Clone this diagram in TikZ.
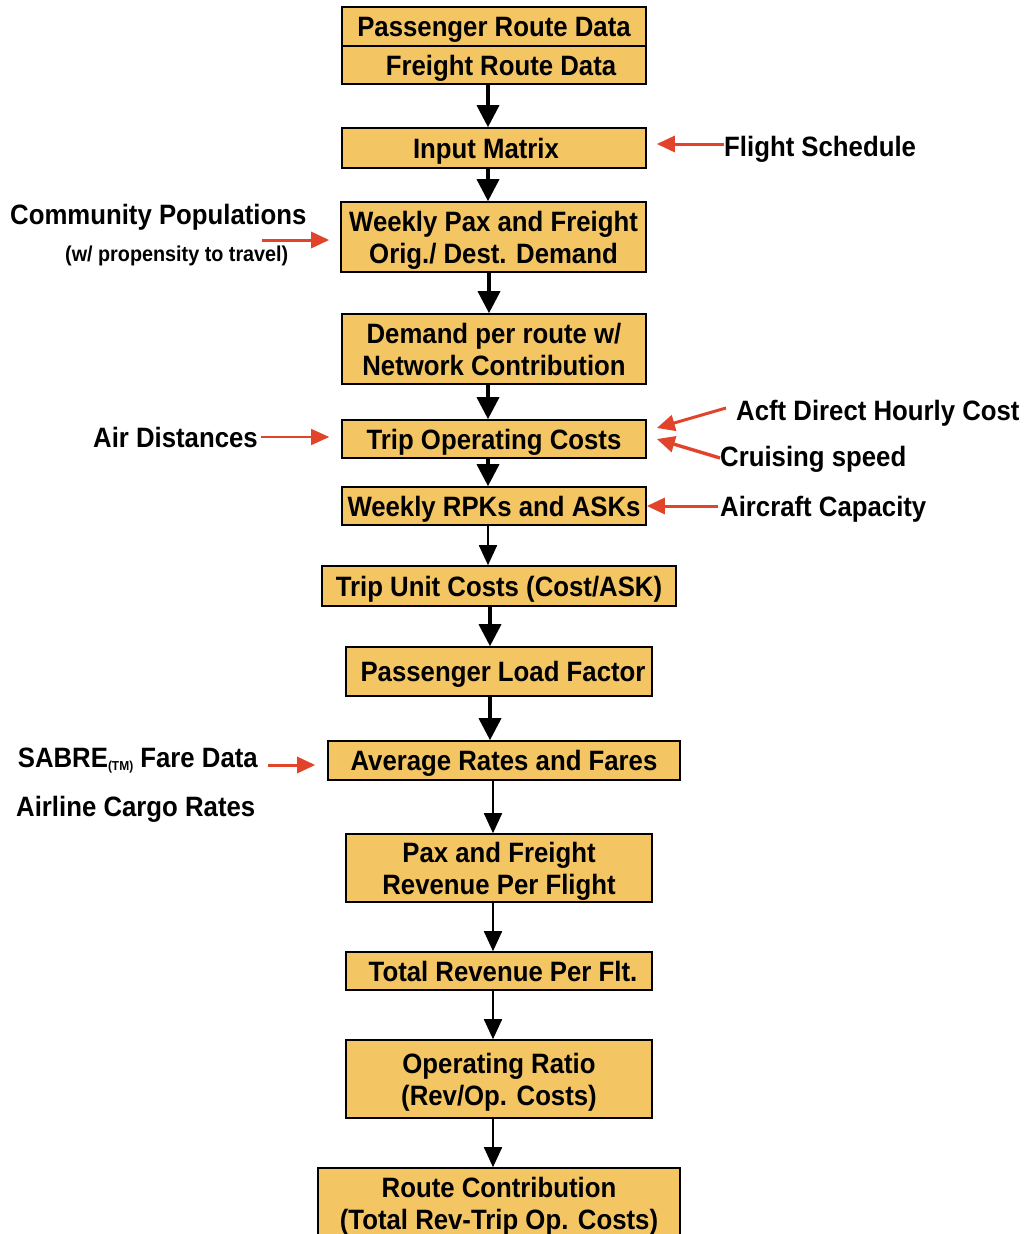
\documentclass[tikz,border=0pt]{standalone}
\usepackage{fontspec}
\setmainfont{Liberation Sans}[FakeStretch=0.92]
\usetikzlibrary{arrows.meta}
\definecolor{boxfill}{RGB}{244,197,99}
\definecolor{feedred}{RGB}{226,67,43}

\begin{document}
\begin{tikzpicture}[x=1pt,y=-1pt,
  stage/.style={draw, line width=1.6pt, fill=boxfill, inner sep=0pt, align=center, text depth=-3pt,
    font=\fontsize{28}{32}\selectfont\bfseries},
  src/.style={inner sep=0pt, text depth=-1pt, font=\fontsize{28}{32}\selectfont\bfseries},
  flow/.style={line width=3.6pt, -{Triangle[length=22pt,width=22pt]}},
  thinflow/.style={line width=1.8pt, -{Triangle[length=20pt,width=18pt]}},
  feed/.style={draw=feedred, line width=3pt, -{Triangle[length=18pt,width=16pt]}, color=feedred}]
\useasboundingbox (0,0) rectangle (1030,1234);
\node[stage, minimum width=304pt, minimum height=39pt] (pax) at (494,26.5) {Passenger Route Data};
\node[stage, minimum width=304pt, minimum height=38pt] (freight) at (494,65) {\hspace*{14pt}Freight Route Data};
\node[stage, minimum width=304pt, minimum height=40pt] (input) at (494,148) {\hspace*{-16pt}Input Matrix};
\node[stage, minimum width=305pt, minimum height=70pt] (odd) at (493.5,237) {Weekly Pax and Freight\\Orig./ Dest. Demand};
\node[stage, minimum width=304pt, minimum height=70pt] (demand) at (494,349) {Demand per route w/\\Network Contribution};
\node[stage, minimum width=304pt, minimum height=38pt] (tripop) at (494,439) {Trip Operating Costs};
\node[stage, minimum width=304pt, minimum height=38pt] (rpk) at (494,506) {Weekly RPKs and ASKs};
\node[stage, minimum width=354pt, minimum height=40pt] (unit) at (499,586) {Trip Unit Costs (Cost/ASK)};
\node[stage, minimum width=306pt, minimum height=49pt] (load) at (499,671.5) {\hspace*{8pt}Passenger Load Factor};
\node[stage, minimum width=352pt, minimum height=39pt] (fares) at (504,760.5) {Average Rates and Fares};
\node[stage, minimum width=306pt, minimum height=68pt] (revenue) at (499,868) {Pax and Freight\\Revenue Per Flight};
\node[stage, minimum width=306pt, minimum height=38pt] (total) at (499,971) {\hspace*{8pt}Total Revenue Per Flt.};
\node[stage, minimum width=306pt, minimum height=78pt] (ratio) at (499,1079) {Operating Ratio\\(Rev/Op. Costs)};
\node[stage, minimum width=362pt, minimum height=70pt] (contrib) at (499,1203) {Route Contribution\\(Total Rev-Trip Op. Costs)};

\node[src, anchor=west] (sched) at (724,146) {Flight Schedule};
\node[src, anchor=west] (pop) at (10,214) {Community Populations};
\node[inner sep=0pt, anchor=west, text depth=-1pt, font=\fontsize{21.5}{24}\selectfont\bfseries] (prop) at (65,254) {(w/ propensity to travel)};
\coordinate (popfeed) at (262,240);
\node[src, anchor=east] (dist) at (258,437) {Air Distances};
\node[src, anchor=west] (acft) at (736,410) {Acft Direct Hourly Cost};
\node[src, anchor=west] (cruise) at (720,456) {Cruising speed};
\node[src, anchor=west] (cap) at (720,506) {Aircraft Capacity};
\node[src, anchor=east] (sabre) at (258,758) {SABRE\raisebox{-3pt}{\fontsize{13}{13}\selectfont(TM)} Fare Data};
\node[src, anchor=west] (cargo) at (16,806) {Airline Cargo Rates};

\draw[flow] ([xshift=-6pt]freight.south) -- ([xshift=-6pt]input.north);
\draw[flow] ([xshift=-6pt]input.south) -- ([xshift=-5.5pt]odd.north);
\draw[flow] ([xshift=-4.5pt]odd.south) -- ([xshift=-5pt]demand.north);
\draw[flow] ([xshift=-6pt]demand.south) -- ([xshift=-6pt]tripop.north);
\draw[flow] ([xshift=-6pt]tripop.south) -- ([xshift=-6pt]rpk.north);
\draw[thinflow] ([xshift=-6pt]rpk.south) -- ([xshift=-11pt]unit.north);
\draw[flow] ([xshift=-9pt]unit.south) -- ([xshift=-9pt]load.north);
\draw[flow] ([xshift=-9pt]load.south) -- ([xshift=-14pt]fares.north);
\draw[thinflow] ([xshift=-11pt]fares.south) -- ([xshift=-6pt]revenue.north);
\draw[thinflow] ([xshift=-6pt]revenue.south) -- ([xshift=-6pt]total.north);
\draw[thinflow] ([xshift=-6pt]total.south) -- ([xshift=-6pt]ratio.north);
\draw[thinflow] ([xshift=-6pt]ratio.south) -- ([xshift=-6pt]contrib.north);

\draw[feed] ([yshift=2pt]sched.west) -- ([yshift=2pt]sched.west -| input.east) [shorten >=10pt];
\draw[feed] (popfeed) -- (popfeed -| odd.west) [shorten >=11pt];
\draw[feed, line width=1.4pt] ([xshift=3pt]dist.east) -- (dist.east -| tripop.west) [shorten >=12pt];
\draw[feed] ([xshift=-10pt,yshift=2pt]acft.west) -- ([xshift=10pt,yshift=11pt]tripop.east);
\draw[feed, line width=3.4pt] ([yshift=-2pt]cruise.west) -- ([xshift=10pt]tripop.east);
\draw[feed] ([xshift=-2pt]cap.west) -- (cap.west -| rpk.east);
\draw[feed] ([xshift=10pt,yshift=-7pt]sabre.east) -- ([yshift=-7pt]sabre.east -| fares.west) [shorten >=12pt];
\end{tikzpicture}
\end{document}
